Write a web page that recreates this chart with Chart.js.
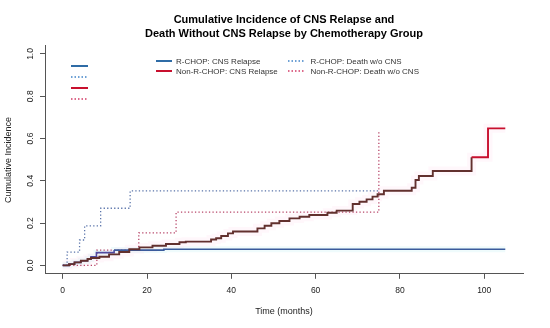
<!DOCTYPE html>
<html>
<head>
<meta charset="utf-8">
<script src="https://cdn.jsdelivr.net/npm/chart.js@4/dist/chart.umd.min.js"></script>
<style>
  html, body { margin: 0; padding: 0; background: #fff; }
  #wrap { width: 550px; height: 328px; position: relative; }
</style>
</head>
<body>
<div id="wrap"><canvas id="chart"></canvas></div>
<script>
// Cumulative incidence (step functions)
const rchopRelapseT = [0, 1.5, 2.8, 4.3, 5.9, 6.7, 8.0, 12.2, 24.0, 105];
const rchopRelapseY = [0, 0.006, 0.014, 0.022, 0.030, 0.041, 0.060, 0.072, 0.076, 0.076];

const nonRelapseT = [0, 1.5, 2.8, 4.3, 5.9, 6.7, 8.7, 11.0, 13.4, 15.8, 18.2, 21.3, 24.5, 27.7, 29.2,
  35.2, 36.4, 37.6, 39.2, 40.4, 46.2, 47.9, 49.5, 51.4, 53.8, 56.2, 58.5, 62.8, 65.0,
  68.8, 70.4, 72.1, 73.5, 74.7, 76.2, 82.8, 83.7, 84.5, 87.8, 97.0, 100.9, 105];
const nonRelapseY = [0, 0.006, 0.014, 0.022, 0.030, 0.035, 0.041, 0.052, 0.063, 0.076, 0.085, 0.093, 0.101, 0.109, 0.112,
  0.122, 0.128, 0.139, 0.151, 0.160, 0.175, 0.187, 0.199, 0.210, 0.222, 0.230, 0.238, 0.249, 0.259,
  0.290, 0.301, 0.312, 0.325, 0.336, 0.353, 0.367, 0.404, 0.423, 0.446, 0.511, 0.648, 0.648];

const rchopDeathT = [0, 1.05, 4.0, 5.2, 9.0, 16.0, 75.2];
const rchopDeathY = [0, 0.063, 0.120, 0.187, 0.270, 0.352, 0.352];

const nonDeathT = [0, 8.1, 18.05, 26.9, 75.0];
const nonDeathY = [0, 0.072, 0.154, 0.252, 0.640];

const xTicks = [0, 20, 40, 60, 80, 100];
const yTicks = [0, 0.2, 0.4, 0.6, 0.8, 1.0];
const legendLabels = ['R-CHOP: CNS Relapse', 'Non-R-CHOP: CNS Relapse', 'R-CHOP: Death w/o CNS', 'Non-R-CHOP: Death w/o CNS'];

const FONT = '"Liberation Sans", Arial, Helvetica, sans-serif';
const pts = (t, y) => t.map((v, i) => ({ x: v, y: y[i] }));

const BLUE = '#3b5b9c', PURPLE = '#4f4aa0', BROWN = '#62302e', RED = '#c8102e';
const BLUE_DOT = '#5a74aa', RED_DOT = '#b8476a';
const KEY_BLUE = '#2f6ca6', KEY_BLUE_DOT = '#3f82c8', KEY_RED_DOT = '#d23a66';

// legend + texts, drawn the way R lays them out
const textPlugin = {
  id: 'rtext',
  afterDraw(chart) {
    const { ctx, scales: { x, y } } = chart;
    ctx.save();
    ctx.fillStyle = '#000';
    ctx.textAlign = 'center';
    ctx.textBaseline = 'middle';
    ctx.font = `bold 11px ${FONT}`;
    ctx.fillText('Cumulative Incidence of CNS Relapse and', 284, 20);
    ctx.fillText('Death Without CNS Relapse by Chemotherapy Group', 284, 34);

    ctx.fillStyle = '#222';
    ctx.font = `8.5px ${FONT}`;
    xTicks.forEach((v) => ctx.fillText(String(v), x.getPixelForValue(v), 290.5));
    yTicks.forEach((v) => {
      ctx.save();
      ctx.translate(31, y.getPixelForValue(v));
      ctx.rotate(-Math.PI / 2);
      ctx.fillText(v.toFixed(1), 0, 0);
      ctx.restore();
    });

    ctx.font = `9px ${FONT}`;
    ctx.fillText('Time (months)', 284, 312);
    ctx.save();
    ctx.translate(9, 160);
    ctx.rotate(-Math.PI / 2);
    ctx.fillText('Cumulative Incidence', 0, 0);
    ctx.restore();

    // legend
    const seg = (x0, x1, yy, color, dotted, w) => {
      ctx.beginPath();
      ctx.strokeStyle = color;
      ctx.lineWidth = w;
      ctx.setLineDash(dotted ? [1.5, 2] : []);
      ctx.moveTo(x0, yy); ctx.lineTo(x1, yy); ctx.stroke();
    };
    const rows = [
      { x: 156, y: 61, c: KEY_BLUE, d: false, t: legendLabels[0] },
      { x: 156, y: 71, c: RED, d: false, t: legendLabels[1] },
      { x: 288, y: 61, c: KEY_BLUE_DOT, d: true, t: legendLabels[2] },
      { x: 288, y: 71, c: KEY_RED_DOT, d: true, t: legendLabels[3] }
    ];
    ctx.font = `8px ${FONT}`;
    ctx.textAlign = 'left';
    ctx.fillStyle = '#333';
    rows.forEach((r) => {
      seg(r.x, r.x + 16, r.y, r.c, r.d, r.d ? 1.4 : 2);
      ctx.fillText(r.t, r.x + (r.d ? 22.5 : 20), r.y + 0.5);
    });
    // empty legend keys at top-left
    seg(71, 88, 66, KEY_BLUE, false, 2);
    seg(71, 88, 77, KEY_BLUE_DOT, true, 1.4);
    seg(71, 88, 88, RED, false, 2);
    seg(71, 88, 99, KEY_RED_DOT, true, 1.4);
    ctx.restore();
  }
};

new Chart(document.getElementById('chart'), {
  type: 'line',
  data: {
    datasets: [
      { data: pts(nonRelapseT, nonRelapseY), stepped: true, borderWidth: 1.9, order: 1,
        segment: { borderColor: (c) => (c.p0.parsed.x < 97 ? BROWN : RED) } },
      { data: pts(rchopRelapseT, rchopRelapseY), stepped: true, borderWidth: 1.6, order: 2,
        segment: { borderColor: (c) => (c.p0.parsed.x < 12 ? PURPLE : BLUE) } },
      { data: pts(rchopDeathT, rchopDeathY), stepped: true, borderWidth: 1.3, borderColor: BLUE_DOT, borderDash: [1.3, 2.2], order: 3 },
      { data: pts(nonDeathT, nonDeathY), stepped: true, borderWidth: 1.3, borderColor: RED_DOT, borderDash: [1.3, 2.2], order: 4 },
      // faint bands under the relapse curves
      { data: pts(nonRelapseT, nonRelapseY), stepped: true, borderWidth: 9, borderColor: 'rgba(255,190,220,0.12)', order: 8 },
      { data: pts(rchopRelapseT, rchopRelapseY), stepped: true, borderWidth: 6, borderColor: 'rgba(190,240,245,0.25)', order: 9 }
    ]
  },
  options: {
    responsive: true,
    maintainAspectRatio: false,
    animation: false,
    layout: { padding: { top: 45.5, right: 27, left: 0, bottom: 0 } },
    elements: { point: { radius: 0, hoverRadius: 0 }, line: { borderCapStyle: 'butt' } },
    plugins: { legend: { display: false }, title: { display: false }, tooltip: { enabled: false } },
    scales: {
      x: {
        type: 'linear', min: -4.2, max: 109.2,
        afterBuildTicks: (s) => { s.ticks = xTicks.map((v) => ({ value: v })); },
        afterFit: (s) => { s.height = 54.2; },
        ticks: { display: false },
        grid: { drawOnChartArea: false, drawTicks: true, tickLength: 5, tickColor: '#555', tickWidth: 1 },
        border: { display: true, color: '#555', width: 1 }
      },
      y: {
        type: 'linear', min: -0.04, max: 1.04,
        afterBuildTicks: (s) => { s.ticks = yTicks.map((v) => ({ value: v })); },
        afterFit: (s) => { s.width = 45; },
        ticks: { display: false },
        grid: { drawOnChartArea: false, drawTicks: true, tickLength: 5, tickColor: '#555', tickWidth: 1 },
        border: { display: true, color: '#555', width: 1 }
      }
    }
  },
  plugins: [textPlugin]
});
</script>
</body>
</html>
